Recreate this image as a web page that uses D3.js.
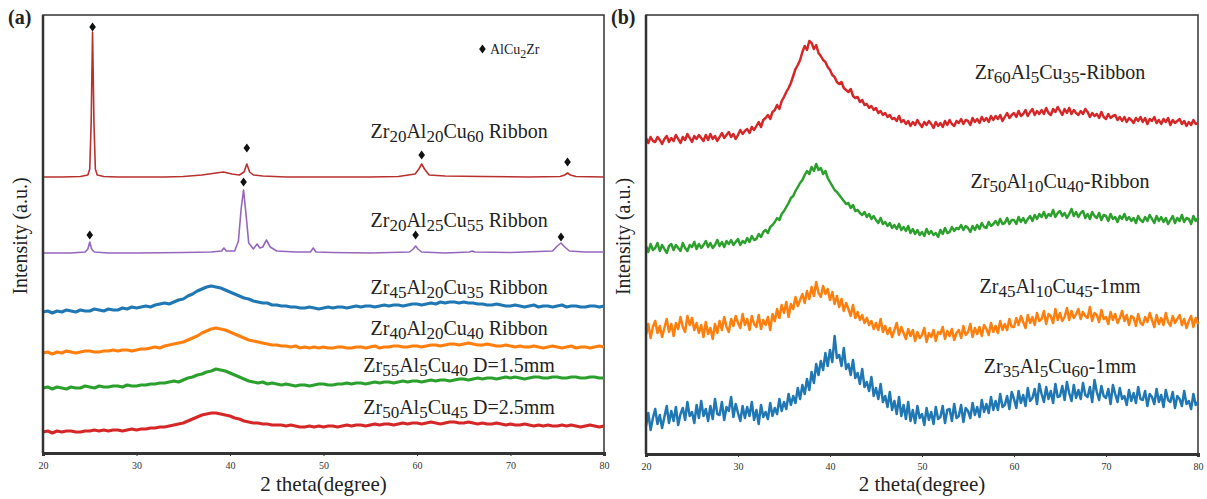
<!DOCTYPE html>
<html>
<head>
<meta charset="utf-8">
<script src="https://cdn.jsdelivr.net/npm/d3@7"></script>
<style>
  body { margin: 0; background: #fff; }
</style>
</head>
<body>
<div id="chart-area"></div>
<script>
// ---------------------------//
//            DATA            //
// ---------------------------//

// panel (a): amorphous patterns, sampled every 0.5 degree from 20 to 80
const STEP_A = 0.5;
const a_blue = [141,142,140,142,141,143,142,141,143,142,142,144,143,142,144,143,143,145,144,146,
  145,146,147,146,148,149,150,149,151,153,154,157,159,162,164,166,167,166,165,163,
  161,159,157,155,154,152,151,150,150,148,148,147,147,146,146,145,145,146,145,144,
  145,146,145,146,146,145,146,147,146,147,147,146,147,148,147,148,148,147,148,149,
  149,148,149,150,149,151,150,151,151,150,151,150,150,149,149,148,148,149,148,147,
  147,148,147,146,147,148,146,147,147,146,147,148,146,147,147,146,146,147,147,146,147];
const a_orange = [100,101,99,101,100,102,101,100,101,102,102,101,101,102,102,103,102,103,103,102,
  103,104,104,105,106,105,107,108,109,110,111,113,115,117,120,122,124,125,124,123,
  121,119,117,115,113,112,111,110,109,108,108,107,107,106,107,105,106,105,106,105,
  106,105,105,106,106,105,105,106,106,105,106,107,105,106,106,107,107,106,106,107,
  107,106,107,108,108,107,108,109,109,108,109,110,109,108,108,109,108,107,107,108,
  107,106,107,106,106,107,106,105,106,107,106,105,106,107,105,106,106,105,106,107,106];
const a_green = [65,66,64,66,65,64,66,65,65,67,66,65,67,66,66,67,67,66,68,67,
  67,68,68,69,69,70,70,71,72,71,73,75,76,78,79,81,82,84,83,82,
  80,78,76,74,72,71,70,71,69,70,69,68,69,68,67,68,68,67,68,69,
  69,68,68,69,69,70,69,70,70,69,70,71,70,71,71,70,71,72,71,72,
  72,71,72,73,72,73,73,72,73,74,74,73,74,75,74,75,75,74,75,76,
  75,76,75,74,75,76,76,75,75,76,76,75,75,76,76,75,75,76,76,75,75];
const a_red = [21,22,20,22,21,22,22,21,21,22,22,23,22,23,22,23,23,22,23,24,
  23,24,24,25,25,26,26,27,28,29,30,32,34,36,38,39,40,40,39,38,
  37,35,34,32,31,30,30,29,29,28,28,28,27,28,27,26,26,27,26,27,
  26,27,27,26,27,28,27,28,28,27,28,29,28,29,29,28,29,30,29,30,
  30,29,30,31,30,29,30,31,31,30,30,31,30,29,30,29,29,30,29,28,
  29,28,28,29,28,27,28,27,28,27,27,28,27,28,27,26,27,28,27,26,27];

// panel (a): crystalline patterns, irregular sampling around the peaks
const a_cryst1_x = [20,22,24,24.8,25.0,25.15,25.3,25.45,25.6,25.8,26.5,28,30,33,35,37,38.5,39.3,40.2,41,41.5,41.8,42.1,42.5,43.5,46,50,55,58,59.8,60.2,60.5,60.8,61.3,63,67,72,75.3,75.8,76.1,76.4,77,80];
const a_cryst1_y = [276,276,276.5,278,284,330,421,330,284,278,276.5,276,276,276,276.5,278,280,281,279,278,281,289,281,278,277,276,276,276,276.5,279,284,289,284,278,277,276.5,276,276.5,278,280,278,276.5,276];
const a_cryst2_x = [20,23,24.5,24.8,25.0,25.2,25.5,27,30,35,38,39.1,39.35,39.6,40.5,40.9,41.2,41.45,41.7,42.0,42.5,42.9,43.2,43.5,43.9,44.3,45,47,48.6,48.9,49.2,51,55,59.2,59.6,59.85,60.1,60.5,63,65.6,65.9,66.2,70,74.5,75.0,75.4,75.8,76.3,78,80];
const a_cryst2_y = [200,200,201,204,211,204,201,200,200,200.5,201,202,205,202,202,212,245,263,240,210,204,209,205,206,213,206,202,201,201,205,201,200.5,200,201,204,207,204,201,200,201,202,201,200.5,202,207,210,206,202,201,201];

// AlCu2Zr peak markers [2theta, intensity]
const a_marks = [[25.3,426],[41.8,305],[60.5,298],[76.1,291],
                 [25.0,218],[41.45,271],[59.85,218],[75.4,216]];

const a_names = ["Zr{20}Al{20}Cu{60} Ribbon","Zr{20}Al{25}Cu{55} Ribbon","Zr{45}Al{20}Cu{35} Ribbon",
                 "Zr{40}Al{20}Cu{40} Ribbon","Zr{55}Al{5}Cu{40} D=1.5mm","Zr{50}Al{5}Cu{45} D=2.5mm"];
const a_name_pos = [[64.5,315],[64.5,226],[64.5,159],[64.5,118],[64.5,81],[64.5,39]];

// panel (b): sampled every 0.25 degree from 20 to 80
const STEP_B = 0.25;
const b_red = [316,311,317,313,312,317,314,310,315,318,312,316,313,319,315,311,317,314,320,316,
  312,318,315,319,316,313,319,314,320,315,318,313,317,321,316,319,322,317,320,315,
  319,324,320,323,325,321,327,324,328,332,327,334,336,339,335,342,344,349,345,353,
  357,362,366,371,378,385,389,394,402,408,404,413,411,405,409,401,398,394,392,387,
  384,379,377,372,370,372,366,364,362,365,358,356,357,352,354,349,350,346,348,344,
  346,341,343,339,341,337,339,335,336,333,338,332,334,330,333,328,332,329,334,330,
  327,332,329,333,330,326,332,328,331,327,333,329,334,330,328,333,331,335,330,334,
  333,329,336,332,335,331,337,333,336,332,338,334,338,335,339,333,337,341,336,339,
  341,337,343,338,340,344,338,342,345,339,343,340,344,340,346,341,339,345,342,347,
  343,339,345,341,346,340,344,341,339,343,340,345,342,337,341,338,340,336,342,337,
  335,340,336,338,339,334,337,333,337,332,336,334,331,336,333,337,332,336,330,335,
  333,337,331,334,330,335,332,336,329,334,331,333,335,330,333,328,332,329,334,330,331];
const b_green = [208,202,210,204,206,211,203,209,205,201,208,210,204,209,206,203,211,206,203,209,
  207,212,205,210,206,209,213,207,211,206,209,214,208,212,207,213,210,214,209,212,
  215,209,213,211,216,212,218,214,215,220,217,222,224,221,227,229,232,236,234,240,
  243,247,251,256,258,263,267,271,274,279,283,280,287,283,290,284,286,280,283,276,
  272,268,264,262,259,256,253,250,251,246,249,243,244,241,239,242,237,240,235,238,
  234,231,236,230,232,228,231,226,229,225,230,224,227,223,228,221,225,220,224,219,
  222,218,225,220,223,219,221,217,224,220,226,221,222,227,223,226,225,229,224,228,
  226,222,228,224,229,225,231,227,226,232,228,230,233,229,235,230,231,236,230,234,
  234,230,237,232,236,231,235,238,233,239,235,240,237,242,236,240,238,244,237,241,
  243,238,241,236,240,245,238,242,237,241,243,236,240,235,242,238,236,241,234,239,
  238,233,240,235,237,232,238,235,240,234,237,233,236,231,238,234,232,237,233,239,
  235,231,238,233,237,232,236,230,234,238,231,236,233,239,232,236,235,230,238,233,236];
const b_orange = [119,130,116,127,133,121,128,117,126,135,122,130,118,131,125,137,127,122,138,129,
  136,124,131,121,129,117,132,120,126,115,130,121,133,124,137,127,122,135,128,138,
  131,126,140,129,135,124,138,130,127,139,125,134,129,137,124,140,133,145,136,149,
  141,152,137,150,145,157,148,154,160,151,163,155,167,158,172,161,157,168,160,165,
  154,162,150,158,147,155,143,151,145,138,149,136,142,134,139,131,136,129,133,125,
  131,124,135,122,128,120,126,117,124,131,119,127,121,115,125,118,124,113,122,116,
  119,126,112,121,117,124,113,122,120,127,115,123,118,125,114,121,124,116,128,119,
  122,130,117,126,120,127,118,129,125,119,131,122,128,121,133,124,130,124,135,127,
  127,136,129,138,132,126,139,131,137,129,141,133,135,143,130,140,138,131,145,134,
  141,133,137,146,134,143,136,140,145,135,142,138,136,147,133,141,139,132,144,135,
  137,130,142,134,140,131,136,143,133,139,129,138,136,128,140,131,129,137,132,141,
  134,127,139,130,136,129,141,132,128,138,131,135,139,129,135,126,133,138,127,136,130];
const b_blue = [28,41,24,36,45,30,39,26,37,48,31,43,33,47,29,40,46,34,52,38,
  42,31,49,36,53,38,45,33,48,35,55,40,39,52,34,47,43,57,37,50,
  41,33,48,36,47,38,52,34,44,30,49,37,42,35,51,38,46,40,55,43,
  52,45,60,49,58,51,66,55,69,60,75,64,82,71,90,79,93,84,101,88,
  104,92,118,96,99,88,106,85,90,79,94,76,81,70,85,67,72,63,77,58,
  66,55,70,52,58,47,62,44,53,40,57,38,49,35,52,33,44,31,48,36,
  40,29,46,34,42,30,47,35,37,48,31,44,45,33,50,36,38,49,32,46,
  43,36,51,39,47,37,54,42,50,41,57,44,53,44,60,47,49,58,45,62,
  55,46,63,51,59,48,66,53,56,65,50,70,60,52,67,55,63,51,70,57,
  58,68,54,72,61,53,69,56,64,55,71,59,57,67,52,74,62,54,68,58,
  56,65,50,69,60,52,66,55,58,49,64,53,61,51,67,55,54,63,48,60,
  57,50,65,52,59,47,64,54,52,62,46,58,55,48,63,50,53,45,60,49,52];

const b_names = ["Zr{60}Al{5}Cu{35}-Ribbon","Zr{50}Al{10}Cu{40}-Ribbon","Zr{45}Al{10}Cu{45}-1mm","Zr{35}Al{5}Cu{60}-1mm"];
const b_name_pos = [[65,375],[65,266],[65,161],[65,81]];

const x_ticks = [20,30,40,50,60,70,80];

// ---------------------------//
//           LAYOUT           //
// ---------------------------//

const FONT = "'Liberation Serif', 'Times New Roman', serif";

const svg = d3.select("#chart-area").append("svg")
    .attr("width", 1207)
    .attr("height", 499)
    .attr("font-family", FONT)
    .style("font-family", FONT);

const COLORS = {darkred:"#b8312f", purple:"#9467bd", blue:"#1f77b4", orange:"#ff7f0e", green:"#2ca02c", red:"#d62728"};

function addSubs(sel, str, subSize) {
    // "Zr{20}Al{5}..." -> tspans with subscripts
    const parts = str.split(/(\{[^}]*\})/).filter(s => s.length);
    let lowered = false;
    parts.forEach(p => {
        if (p[0] === "{") {
            sel.append("tspan").attr("dy", lowered ? 0 : 4).style("font-size", subSize + "px").text(p.slice(1, -1));
            lowered = true;
        } else {
            sel.append("tspan").attr("dy", lowered ? -4 : 0).text(p);
            lowered = false;
        }
    });
}

function panel(opts) {
    const g = svg.append("g");
    const x = d3.scaleLinear().domain([20, 80]).range([opts.left, opts.right]);
    const y = d3.scaleLinear().domain(opts.ydom).range([opts.bottom, opts.top]);

    // frame
    g.append("rect")
        .attr("x", opts.left).attr("y", opts.top)
        .attr("width", opts.right - opts.left).attr("height", opts.bottom - opts.top)
        .attr("fill", "none").attr("stroke", "#333").attr("stroke-width", 1.5);

    const line = d3.line().x(d => x(d[0])).y(d => y(d[1]));
    opts.series.forEach(s => {
        g.append("path")
            .datum(s.pts)
            .attr("d", line)
            .attr("fill", "none")
            .attr("stroke", s.color)
            .attr("stroke-width", s.w)
            .attr("stroke-linejoin", "round");
    });

    // axes
    const xAxis = d3.axisBottom(x).tickValues(x_ticks).tickSize(3).tickFormat(d3.format("d"));
    const ax = g.append("g").attr("transform", `translate(0,${opts.bottom})`).call(xAxis);
    ax.attr("font-family", FONT);
    ax.select(".domain").attr("stroke", "#333").attr("stroke-width", 3);
    ax.selectAll(".tick line").attr("stroke", "#333");
    ax.selectAll(".tick text").attr("dy", "1.0em").style("font-size", "10px").attr("fill", "#333");
    g.append("line")
        .attr("x1", opts.left).attr("x2", opts.left)
        .attr("y1", opts.top).attr("y2", opts.bottom)
        .attr("stroke", "#333").attr("stroke-width", 2.5);

    // titles
    g.append("text")
        .attr("x", (opts.left + opts.right) / 2).attr("y", 491)
        .attr("text-anchor", "middle").style("font-size", "21px").attr("fill", "#222")
        .text("2 theta(degree)");
    g.append("text")
        .attr("transform", `translate(${opts.left - 16},${(opts.top + opts.bottom) / 2 + 2}) rotate(-90)`)
        .attr("text-anchor", "middle").style("font-size", "20px").attr("fill", "#222")
        .text("Intensity (a.u.)");
    g.append("text")
        .attr("x", opts.left - 35).attr("y", 24)
        .style("font-size", "20px").style("font-weight", "bold").attr("fill", "#222")
        .text(opts.tag);

    // curve names
    opts.names.forEach((n, i) => {
        const t = g.append("text")
            .attr("x", x(opts.namePos[i][0])).attr("y", y(opts.namePos[i][1]))
            .attr("text-anchor", "middle").style("font-size", opts.nameSize + "px").attr("fill", "#222");
        addSubs(t, n, opts.nameSize - 3);
    });
    return {g, x, y};
}

function grid(vals, step) { return vals.map((v, i) => [20 + i * step, v]); }
function zip(xs, ys) { return xs.map((v, i) => [v, ys[i]]); }

const pa = panel({
    left: 43, right: 604, top: 15, bottom: 453, ydom: [0, 438], tag: "(a)",
    nameSize: 20, names: a_names, namePos: a_name_pos,
    series: [
        {pts: zip(a_cryst1_x, a_cryst1_y), color: COLORS.darkred, w: 1.6},
        {pts: zip(a_cryst2_x, a_cryst2_y), color: COLORS.purple, w: 1.6},
        {pts: grid(a_blue, STEP_A), color: COLORS.blue, w: 3},
        {pts: grid(a_orange, STEP_A), color: COLORS.orange, w: 3},
        {pts: grid(a_green, STEP_A), color: COLORS.green, w: 3},
        {pts: grid(a_red, STEP_A), color: COLORS.red, w: 3}
    ]
});

// diamond markers and legend
const diamond = "M0,-4.5L3.3,0L0,4.5L-3.3,0Z";
pa.g.selectAll(".mark")
    .data(a_marks)
    .enter()
    .append("path")
    .attr("class", "mark")
    .attr("d", diamond)
    .attr("transform", d => `translate(${pa.x(d[0])},${pa.y(d[1])})`)
    .attr("fill", "#111");
pa.g.append("path").attr("d", diamond).attr("fill", "#111")
    .attr("transform", `translate(${pa.x(67.0)},${pa.y(404)})`);
const leg = pa.g.append("text").attr("x", pa.x(67.8)).attr("y", pa.y(399)).style("font-size", "14px").attr("fill", "#222");
addSubs(leg, "AlCu{2}Zr", 12);

panel({
    left: 646, right: 1198, top: 15, bottom: 454, ydom: [0, 439], tag: "(b)",
    nameSize: 20, names: b_names, namePos: b_name_pos,
    series: [
        {pts: grid(b_red, STEP_B), color: COLORS.red, w: 2.5},
        {pts: grid(b_green, STEP_B), color: COLORS.green, w: 2.5},
        {pts: grid(b_orange, STEP_B), color: COLORS.orange, w: 2.5},
        {pts: grid(b_blue, STEP_B), color: COLORS.blue, w: 2.5}
    ]
});
</script>
</body>
</html>
